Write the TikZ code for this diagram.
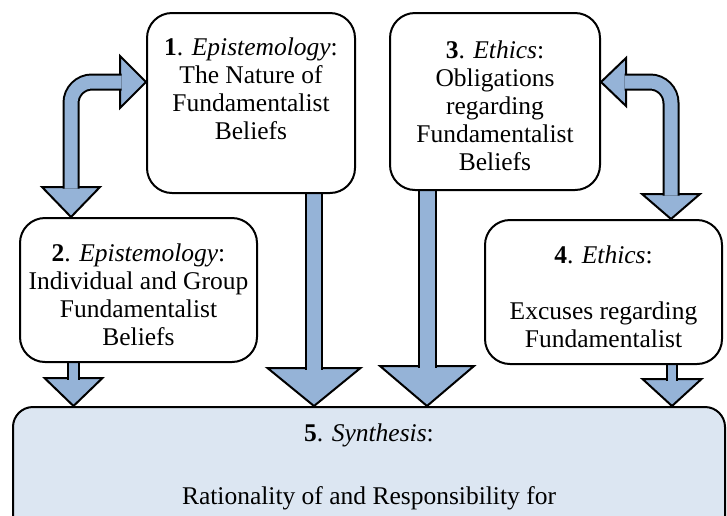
\documentclass[tikz,border=0pt]{standalone}
\usepackage{fontspec}
\setmainfont{Liberation Serif}
\usepackage{tikz}
\usetikzlibrary{backgrounds}
\definecolor{arrowblue}{RGB}{149,179,215}
\definecolor{synthblue}{RGB}{220,230,242}
\newcommand{\firstrow}{\rule{0pt}{27pt}}
\tikzstyle{box} = [rectangle, draw, line width=2pt, fill=white, rounded corners=25pt, align=center, font=\fontsize{25.5}{28}\selectfont]
\tikzstyle{synth} = [box, fill=synthblue, rounded corners=20pt]
\tikzstyle{head} = [draw, line width=2pt, fill=arrowblue]
\tikzstyle{shaft} = [draw, line width=2pt, double=arrowblue]

\begin{document}
\begin{tikzpicture}[x=1pt, y=-1pt]
\useasboundingbox (0,0) rectangle (727,515);
% Place nodes
\node [box, minimum width=208pt, minimum height=180pt] (ep1) at (251,103) {\textbf{1}. \textit{Epistemology}:\\ The Nature of\\ Fundamentalist\\ Beliefs\\ \mbox{}};
\node [box, minimum width=237pt, minimum height=144pt] (ep2) at (138.5,290) {\firstrow\textbf{2}. \textit{Epistemology}:\\ Individual and Group\\ Fundamentalist\\ Beliefs};
\node [box, minimum width=210pt, minimum height=177pt] (eth3) at (495,101.5) {\firstrow\textbf{3}. \textit{Ethics}:\\ Obligations\\ regarding\\ Fundamentalist\\ Beliefs};
\node [box, minimum width=237pt, minimum height=144pt] (eth4) at (603.5,292) {\firstrow\textbf{4}. \textit{Ethics}:\\ \mbox{}\\ Excuses regarding\\ Fundamentalist};
\node [synth, minimum width=712pt, minimum height=133pt] (syn) at (369,473.5) {\firstrow\textbf{5}. \textit{Synthesis}:\\[35pt] Rationality of and Responsibility for\\ \mbox{}};

\begin{scope}[on background layer]
% Draw the bent arrows between the upper boxes
\path [head] (ep1.west |- 0,82) -- ++(-26,-26) -- ++(0,52) -- cycle;
\path [head] (71,0 |- ep2.north) -- ++(29,-30) -- ++(-58,0) -- cycle;
\path [shaft, double distance=13pt, rounded corners=21pt, shorten <=28.5pt, shorten >=24.5pt] (71,0 |- ep2.north) -- (71,82) -- (ep1.west |- 0,82);

\path [head] (eth3.east |- 0,82) -- ++(25,-24) -- ++(0,48) -- cycle;
\path [head] (671,0 |- eth4.north) -- ++(29,-25) -- ++(-58,0) -- cycle;
\path [shaft, double distance=13pt, rounded corners=21pt, shorten <=23.5pt, shorten >=23.5pt] (eth3.east |- 0,82) -- (671,82) -- (671,0 |- eth4.north);

% Draw the arrows into the synthesis
\path [head] (73.5,0 |- syn.north) -- ++(29,-28) -- ++(-58,0) -- cycle;
\path [shaft, double distance=9.5pt, shorten >=26.5pt] (73.5,0 |- ep2.south) -- (73.5,0 |- syn.north);

\path [head] (314,0 |- syn.north) -- ++(46.5,-38) -- ++(-93,0) -- cycle;
\path [shaft, double distance=14.5pt, shorten >=36.5pt] (314,0 |- ep1.south) -- (314,0 |- syn.north);

\path [head] (427,0 |- syn.north) -- ++(47,-40) -- ++(-94,0) -- cycle;
\path [shaft, double distance=15pt, shorten >=38.5pt] (427,0 |- eth3.south) -- (427,0 |- syn.north);

\path [head] (672,0 |- syn.north) -- ++(29.5,-27) -- ++(-59,0) -- cycle;
\path [shaft, double distance=8.5pt, shorten >=25.5pt] (672,0 |- eth4.south) -- (672,0 |- syn.north);
\end{scope}
\end{tikzpicture}
\end{document}
